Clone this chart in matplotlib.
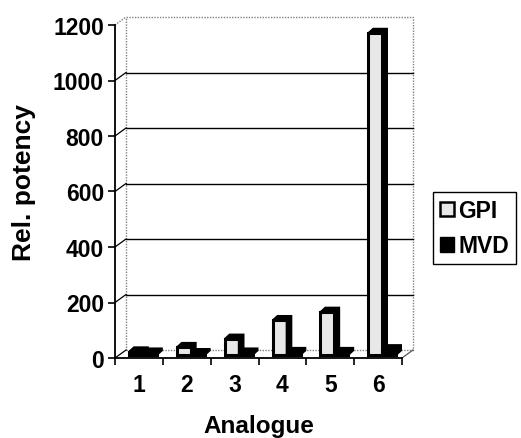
"""Relative potency of analogues, GPI vs MVD, drawn as a pseudo-3D column chart."""

import matplotlib
matplotlib.use("Agg")
import matplotlib.pyplot as plt
from matplotlib.patches import Polygon, Patch

plt.rcParams["font.family"] = ["Liberation Sans", "DejaVu Sans"]
plt.rcParams["font.weight"] = "bold"

analogues = ["1", "2", "3", "4", "5", "6"]
gpi = [12, 28, 58, 125, 155, 1160]
mvd = [8, 6, 8, 10, 10, 20]
y_ticks = [0, 200, 400, 600, 800, 1000, 1200]

W, H = 521, 439
fig = plt.figure(figsize=(W / 100, H / 100), dpi=100, facecolor="white")
ax = fig.add_axes([115 / W, 80 / H, 287 / W, 333 / H])
ax.set_xlim(0.5, 6.5)
ax.set_ylim(0, 1200)

# pixel -> data helpers
px_x = 287 / 6
px_y = 333 / 1200
wall_dx, wall_dy = 11 / px_x, 8 / px_y
bar_dx, bar_dy = 5 / px_x, 4.5 / px_y
base = 3 / px_y
bar_w = 14 / px_x
gpi_off = 14 / px_x - 0.5

wall_kw = dict(color="#808080", lw=1, ls=(0, (1, 1)), clip_on=False)
x0, x1 = 0.5, 6.5
# back wall
ax.plot([x0 + wall_dx, x1 + wall_dx, x1 + wall_dx, x0 + wall_dx, x0 + wall_dx],
        [wall_dy, wall_dy, 1200 + wall_dy, 1200 + wall_dy, wall_dy], **wall_kw)
# top edge of left wall
ax.plot([x0, x0 + wall_dx], [1200, 1200 + wall_dy], **wall_kw)
# gridlines on back wall and left wall
for v in y_ticks[1:-1]:
    ax.plot([x0 + wall_dx, x1 + wall_dx], [v + wall_dy, v + wall_dy], color="black", lw=1, clip_on=False)
for v in y_ticks[:-1]:
    ax.plot([x0, x0 + wall_dx], [v, v + wall_dy], color="black", lw=0.9, clip_on=False)
# right floor edge
ax.plot([x1, x1 + wall_dx], [0, wall_dy], color="#555555", lw=0.9, clip_on=False)


def draw_bar(left, value, face):
    ax.bar(left, value, bar_w, bottom=base, align="edge", facecolor=face,
           edgecolor="black", linewidth=2.2, zorder=3, clip_on=False)
    top = base + value
    right = left + bar_w
    shade = Polygon([(left, top), (left + bar_dx, top + bar_dy), (right + bar_dx, top + bar_dy),
                     (right + bar_dx, base + bar_dy), (right, base), (right, top)],
                    closed=True, facecolor="black", edgecolor="black", lw=1.2, zorder=3, clip_on=False)
    ax.add_patch(shade)


for i in range(len(analogues)):
    k = i + 1
    draw_bar(k + gpi_off, gpi[i], "#e8e8e8")
    draw_bar(k + gpi_off + bar_w, mvd[i], "black")

for s in ["top", "right"]:
    ax.spines[s].set_visible(False)
ax.spines["left"].set_linewidth(1.3)
ax.spines["bottom"].set_linewidth(1.3)
ax.set_facecolor("none")

ax.set_yticks(y_ticks)
ax.set_yticklabels([str(v) for v in y_ticks], fontsize=16.5, fontweight="bold")
ax.tick_params(axis="y", length=5, width=1.2, pad=3)

ax.set_xticks([x0 + j for j in range(7)])
ax.set_xticklabels([])
ax.tick_params(axis="x", which="major", length=5, width=1.2)
ax.set_xticks(range(1, 7), minor=True)
ax.set_xticklabels(analogues, minor=True, fontsize=16.5, fontweight="bold")
ax.tick_params(axis="x", which="minor", length=0, pad=11)

fig.text(259 / W, 1 - 427 / H, "Analogue", ha="center", va="center", fontsize=17.5, fontweight="bold")
fig.text(24 / W, 1 - 183 / H, "Rel. potency", ha="center", va="center", rotation=90,
         fontsize=19, fontweight="bold")

handles = [Patch(facecolor="#e8e8e8", edgecolor="black", lw=1.8), Patch(facecolor="black", edgecolor="black")]
leg = fig.legend(handles, ["GPI", "MVD"], loc="upper left", bbox_to_anchor=(433 / W, 1 - 193 / H),
                 prop={"weight": "bold", "size": 16.5}, frameon=True, fancybox=False,
                 edgecolor="black", framealpha=1, handlelength=0.6, handleheight=0.6,
                 handletextpad=0.2, borderpad=0.3, labelspacing=0.55, borderaxespad=0)
leg.get_frame().set_linewidth(1)

fig.savefig("out.png", dpi=100, facecolor="white")
